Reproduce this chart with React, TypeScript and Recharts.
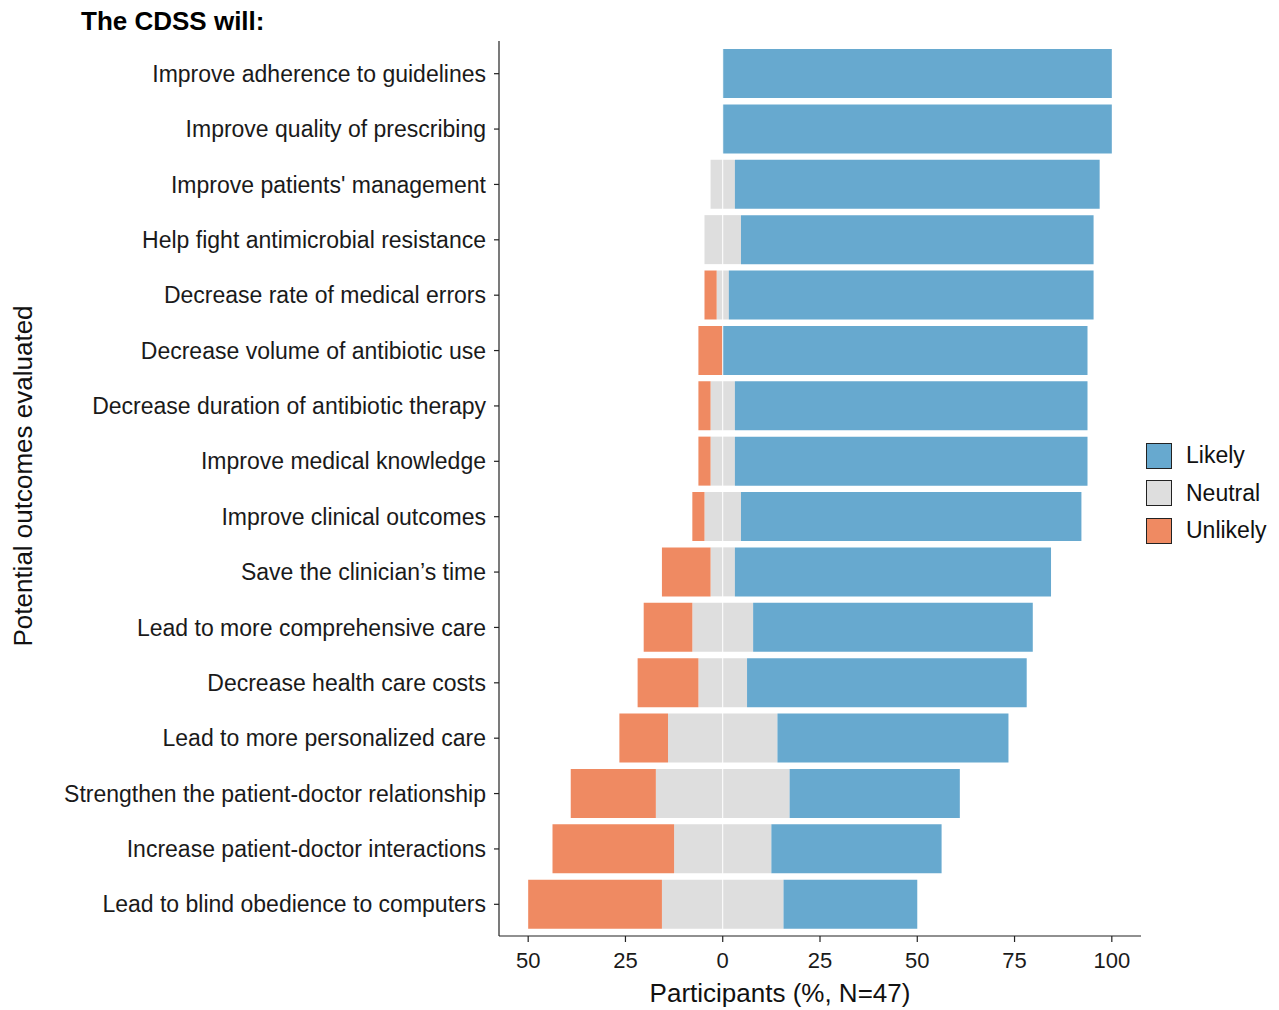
import { BarChart, Bar, XAxis, YAxis, ReferenceLine } from 'recharts';

const FONT = '"Liberation Sans", Arial, Helvetica, sans-serif';

// outcomes, top to bottom
const categories = [
  'Improve adherence to guidelines',
  'Improve quality of prescribing',
  "Improve patients' management",
  'Help fight antimicrobial resistance',
  'Decrease rate of medical errors',
  'Decrease volume of antibiotic use',
  'Decrease duration of antibiotic therapy',
  'Improve medical knowledge',
  'Improve clinical outcomes',
  'Save the clinician’s time',
  'Lead to more comprehensive care',
  'Decrease health care costs',
  'Lead to more personalized care',
  'Strengthen the patient-doctor relationship',
  'Increase patient-doctor interactions',
  'Lead to blind obedience to computers',
];

// % of participants
const likely = [100, 100, 93.75, 90.625, 93.75, 93.75, 90.625, 90.625, 87.5, 81.25, 71.875, 71.875, 59.375, 43.75, 43.75, 34.375];
const neutral = [0, 0, 6.25, 9.375, 3.125, 0, 6.25, 6.25, 9.375, 6.25, 15.625, 12.5, 28.125, 34.375, 25, 31.25];
const unlikely = [0, 0, 0, 0, 3.125, 6.25, 3.125, 3.125, 3.125, 12.5, 12.5, 15.625, 12.5, 21.875, 31.25, 34.375];

const xTicks = [-50, -25, 0, 25, 50, 75, 100];

const COLORS = { likely: '#67a9cf', neutral: '#dedede', unlikely: '#ef8a62' };

const legendItems = [
  { label: 'Likely', color: COLORS.likely },
  { label: 'Neutral', color: COLORS.neutral },
  { label: 'Unlikely', color: COLORS.unlikely },
];

// neutral is split half each side of zero, unlikely goes negative
const data = categories.map((name, i) => ({
  name,
  neutralL: -neutral[i] / 2,
  unlikely: -unlikely[i],
  neutralR: neutral[i] / 2,
  likely: likely[i],
}));

export default function App() {
  return (
    <div style={{ position: 'absolute', left: 0, top: 0, width: 1279, height: 1010, background: '#fff', fontFamily: FONT }}>
      <BarChart
        width={1279}
        height={1010}
        data={data}
        layout="vertical"
        stackOffset="sign"
        margin={{ top: 41, right: 138, bottom: 34, left: 0 }}
      >
        <XAxis
          type="number"
          domain={[-57.5, 107.5]}
          ticks={xTicks}
          allowDataOverflow
          tickFormatter={(v: number) => String(Math.abs(v))}
          height={40}
          tickSize={6}
          tickMargin={10}
          stroke="#222"
          strokeWidth={1.2}
          tick={{ fill: '#1a1a1a', fontSize: 22, fontFamily: FONT }}
        />
        <YAxis
          type="category"
          dataKey="name"
          width={499}
          interval={0}
          padding={{ top: 5, bottom: 4 }}
          tickSize={5}
          tickMargin={8}
          stroke="#222"
          strokeWidth={1.2}
          tick={{ fill: '#1a1a1a', fontSize: 23, fontFamily: FONT }}
        />
        <Bar dataKey="neutralL" stackId="s" fill={COLORS.neutral} barSize={49} isAnimationActive={false} />
        <Bar dataKey="unlikely" stackId="s" fill={COLORS.unlikely} barSize={49} isAnimationActive={false} />
        <Bar dataKey="neutralR" stackId="s" fill={COLORS.neutral} barSize={49} isAnimationActive={false} />
        <Bar dataKey="likely" stackId="s" fill={COLORS.likely} barSize={49} isAnimationActive={false} />
        <ReferenceLine x={0} stroke="#ffffff" strokeWidth={1} />
      </BarChart>

      <div style={{ position: 'absolute', left: 81, top: 6, fontSize: 26, lineHeight: '30px', fontWeight: 'bold', color: '#000' }}>
        The CDSS will:
      </div>

      <div
        style={{
          position: 'absolute',
          left: 23 - 250,
          top: 476 - 15,
          width: 500,
          fontSize: 26,
          lineHeight: '30px',
          textAlign: 'center',
          color: '#111',
          transform: 'rotate(-90deg)',
          transformOrigin: 'center',
        }}
      >
        Potential outcomes evaluated
      </div>

      <div style={{ position: 'absolute', left: 580, top: 978, width: 400, fontSize: 26, lineHeight: '30px', textAlign: 'center', color: '#111' }}>
        Participants (%, N=47)
      </div>

      <div style={{ position: 'absolute', left: 1146, top: 437 }}>
        {legendItems.map((item) => (
          <div key={item.label} style={{ display: 'flex', alignItems: 'center', height: 37.6 }}>
            <div style={{ width: 24, height: 24, background: item.color, border: '1.5px solid #222', boxSizing: 'content-box' }} />
            <span style={{ marginLeft: 14, fontSize: 23, color: '#111' }}>{item.label}</span>
          </div>
        ))}
      </div>
    </div>
  );
}
